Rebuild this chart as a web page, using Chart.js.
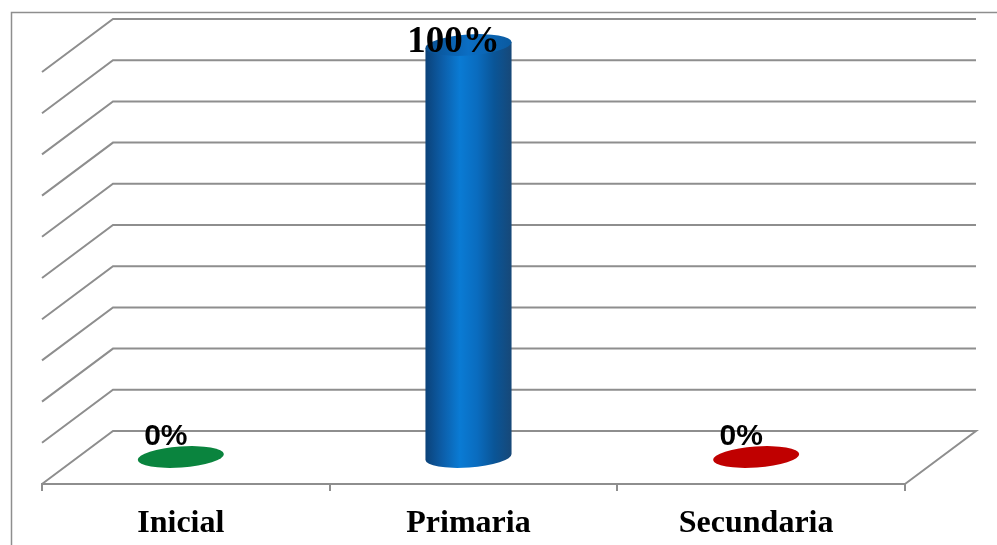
<!DOCTYPE html>
<html>
<head>
<meta charset="utf-8">
<script src="https://cdn.jsdelivr.net/npm/chart.js@4.4.1/dist/chart.umd.min.js"></script>
<style>
  html, body { margin: 0; padding: 0; background: #fff; }
  canvas { display: block; }
</style>
</head>
<body>
<canvas id="chart" width="997" height="545"></canvas>
<script>
// ============================================================
// DATA
// ============================================================
const categories = ['Inicial', 'Primaria', 'Secundaria'];
const values = [0, 100, 0];           // percent
const yTicks = [0, 10, 20, 30, 40, 50, 60, 70, 80, 90, 100];

// ============================================================
// STYLE
// ============================================================
const GRID = '#8e8e8e';
const DEPTH_X = 71;      // back wall offset from front plane
const DEPTH_Y = 53;
const MID_X = -5;        // cylinders sit halfway into the floor
const MID_Y = -27;
const TILT = -0.07;
const barStyles = [
  { top: '#0a843e' },
  { top: ['#0a4f8f', '#0b6ec4', '#0a5aa0'], side: ['#0b4279', '#0c5ea9', '#0a7bd4', '#0a6cbf', '#0a5597', '#174878'] },
  { top: '#c00000' }
];

// 3D frame: outer border, back wall, side diagonals, floor
const frame3d = {
  id: 'frame3d',
  beforeDraw(chart) {
    const { ctx, chartArea: a, scales: { y } } = chart;
    ctx.save();
    ctx.strokeStyle = GRID;
    ctx.lineWidth = 1.5;
    ctx.strokeRect(11.5, 12.5, 1100, 700);

    ctx.lineWidth = 2;
    yTicks.forEach(v => {
      const py = y.getPixelForValue(v);
      ctx.beginPath();
      ctx.moveTo(a.left, py);
      ctx.lineTo(a.left + DEPTH_X, py - DEPTH_Y);
      ctx.lineTo(a.right + DEPTH_X, py - DEPTH_Y);
      if (v === yTicks[0]) ctx.lineTo(a.right, py);
      ctx.stroke();
    });
    ctx.restore();
  }
};

function drawCylinder(ctx, cx, topY, baseY, rx, ry, style) {
  const c = Math.cos(TILT), s = Math.sin(TILT);
  if (baseY - topY > 1 && style.side) {
    const g = ctx.createLinearGradient(cx - rx, 0, cx + rx, 0);
    const n = style.side.length;
    style.side.forEach((col, i) => g.addColorStop(i / (n - 1), col));
    ctx.beginPath();
    ctx.moveTo(cx - rx * c, topY - rx * s);
    ctx.lineTo(cx - rx * c, baseY - rx * s);
    ctx.ellipse(cx, baseY, rx, ry, TILT, Math.PI, 0, true);
    ctx.lineTo(cx + rx * c, topY + rx * s);
    ctx.closePath();
    ctx.fillStyle = g;
    ctx.fill();
  }
  let fill = style.top;
  if (Array.isArray(fill)) {
    const g = ctx.createLinearGradient(cx - rx, 0, cx + rx, 0);
    fill.forEach((col, i) => g.addColorStop(i / (fill.length - 1), col));
    fill = g;
  }
  ctx.beginPath();
  ctx.ellipse(cx, topY, rx, ry, TILT, 0, Math.PI * 2);
  ctx.fillStyle = fill;
  ctx.fill();
}

// Cylinders + value labels, placed from the bar elements
const cylinders = {
  id: 'cylinders',
  afterDatasetsDraw(chart) {
    const { ctx } = chart;
    const meta = chart.getDatasetMeta(0);
    ctx.save();
    meta.data.forEach((bar, i) => {
      const cx = bar.x + MID_X;
      const topY = bar.y + MID_Y;
      const baseY = bar.base + MID_Y;
      drawCylinder(ctx, cx, topY, baseY, bar.width / 2, 10.5, barStyles[i]);
    });
    meta.data.forEach((bar, i) => {
      const v = values[i];
      const cx = bar.x + MID_X - 15;
      const topY = bar.y + MID_Y;
      ctx.fillStyle = '#000';
      ctx.textAlign = 'center';
      ctx.textBaseline = 'alphabetic';
      if (v > 0) {
        ctx.font = 'bold 37px "Liberation Serif", "Times New Roman", serif';
        ctx.fillText(v + '%', cx, topY + 7);
      } else {
        ctx.font = 'bold 30px "Liberation Sans", Arial, sans-serif';
        ctx.fillText(v + '%', cx, topY - 12);
      }
    });
    ctx.restore();
  }
};

new Chart(document.getElementById('chart').getContext('2d'), {
  type: 'bar',
  data: {
    labels: categories,
    datasets: [{
      data: values,
      backgroundColor: 'rgba(0,0,0,0)',
      borderWidth: 0,
      barPercentage: 0.3,
      categoryPercentage: 1.0
    }]
  },
  options: {
    responsive: false,
    animation: false,
    devicePixelRatio: 1,
    layout: { padding: { left: 42, right: 92, top: 72, bottom: 0 } },
    plugins: {
      legend: { display: false },
      tooltip: { enabled: false }
    },
    scales: {
      x: {
        grid: { display: true, drawOnChartArea: false, drawTicks: true, tickLength: 7, color: GRID, lineWidth: 2, offset: true },
        border: { display: true, color: GRID, width: 2 },
        ticks: {
          color: '#000',
          padding: 14,
          labelOffset: -5,
          font: { family: '"Liberation Serif", "Times New Roman", serif', size: 32, weight: 'bold' }
        },
        afterFit(scale) { scale.height = 61; }
      },
      y: {
        display: false,
        min: 0,
        max: 100,
        ticks: { stepSize: 10 }
      }
    }
  },
  plugins: [frame3d, cylinders]
});
</script>
</body>
</html>
